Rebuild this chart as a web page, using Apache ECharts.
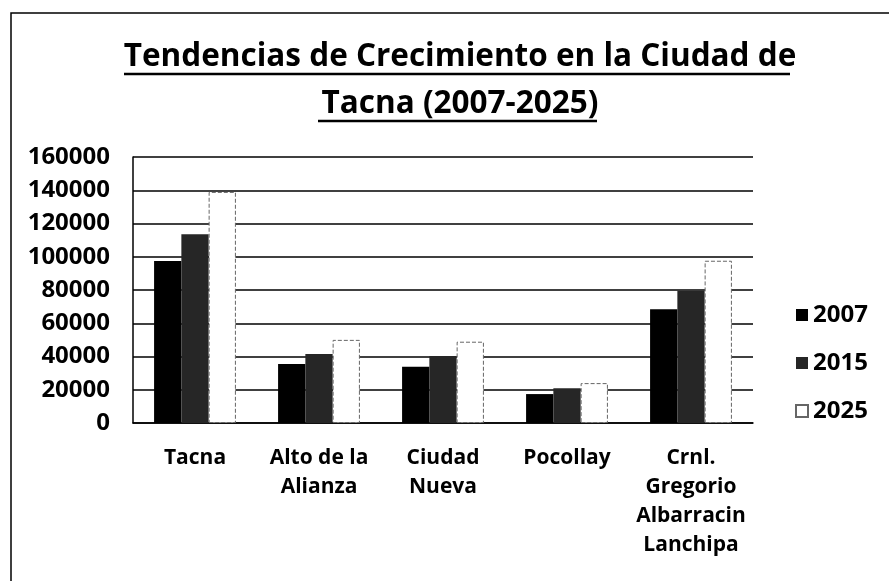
<!DOCTYPE html>
<html>
<head>
<meta charset="utf-8">
<script src="https://cdn.jsdelivr.net/npm/echarts@6/dist/echarts.min.js"></script>
<style>
html,body{margin:0;padding:0;background:#fff;}
#c{width:889px;height:581px;}
</style>
</head>
<body>
<div id="c"></div>
<script>
var categories = ['Tacna', 'Alto de la\nAlianza', 'Ciudad\nNueva', 'Pocollay', 'Crnl.\nGregorio\nAlbarracin\nLanchipa'];
var seriesNames = ['2007', '2015', '2025'];
var values2007 = [97500, 35500, 33900, 17400, 68400];
var values2015 = [113500, 41500, 40300, 20900, 79600];
var values2025 = [139000, 50000, 48900, 24000, 97600];
var yTicks = [0, 20000, 40000, 60000, 80000, 100000, 120000, 140000, 160000];

var FONT = 'Open Sans';
var chart = echarts.init(document.getElementById('c'), null, {renderer: 'canvas'});
var option = {
  backgroundColor: '#fff',
  animation: false,
  title: {
    text: 'Tendencias de Crecimiento en la Ciudad de\nTacna (2007-2025)',
    left: 455,
    textAlign: 'center',
    top: 29,
    textStyle: {fontFamily: FONT, fontWeight: 'bold', fontSize: 31.5, lineHeight: 47, color: '#000'}
  },
  legend: {
    orient: 'vertical',
    left: 790,
    top: 298,
    icon: 'rect',
    itemWidth: 12,
    itemHeight: 12,
    itemGap: 24,
    data: seriesNames,
    textStyle: {fontFamily: FONT, fontWeight: 'bold', fontSize: 24, color: '#000'}
  },
  grid: {left: 133, right: 136, top: 157, bottom: 158},
  xAxis: {
    type: 'category',
    data: categories,
    axisLine: {show: true, lineStyle: {color: '#000', width: 1.5}},
    axisTick: {show: false},
    axisLabel: {fontFamily: FONT, fontWeight: 'bold', fontSize: 21, lineHeight: 29, color: '#000', margin: 21, interval: 0}
  },
  yAxis: {
    type: 'value',
    min: 0, max: 160000, interval: 20000,
    axisLine: {show: true, lineStyle: {color: '#000', width: 1.5}},
    axisTick: {show: false},
    splitLine: {lineStyle: {color: '#000', width: 1.5}},
    axisLabel: {fontFamily: FONT, fontWeight: 'bold', fontSize: 24, color: '#000', margin: 23,
      formatter: function (v) { return yTicks.indexOf(v) >= 0 ? String(v) : ''; }}
  },
  series: [
    {name: seriesNames[0], type: 'bar', data: values2007, barGap: '0%', barCategoryGap: '34%',
      itemStyle: {color: '#000'}},
    {name: seriesNames[1], type: 'bar', data: values2015,
      itemStyle: {color: '#262626'}},
    {name: seriesNames[2], type: 'bar', data: values2025,
      itemStyle: {color: '#fff', borderColor: '#666', borderWidth: 1, borderType: 'dashed'}}
  ],
  graphic: [
    {type: 'rect', shape: {x: 11, y: 13, width: 900, height: 620}, style: {fill: null, stroke: '#000', lineWidth: 1.5}, silent: true},
    {type: 'line', shape: {x1: 124, y1: 74, x2: 790, y2: 74}, style: {stroke: '#000', lineWidth: 2.5}, silent: true},
    {type: 'line', shape: {x1: 318, y1: 121, x2: 597, y2: 121}, style: {stroke: '#000', lineWidth: 2.5}, silent: true}
  ]
};
chart.setOption(option);
</script>
</body>
</html>
